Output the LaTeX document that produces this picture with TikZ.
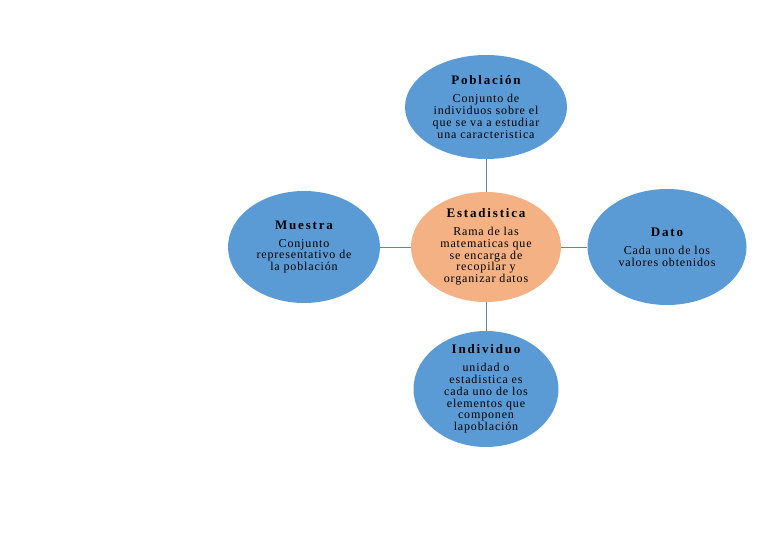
\documentclass[tikz,border=0pt]{standalone}
\usepackage{fontspec}
\setmainfont{Liberation Serif}
\usepackage{tikz}
\usetikzlibrary{shapes.geometric}
\usepackage{xcolor}
\definecolor{concBlue}{HTML}{5B9BD5}
\definecolor{concOrange}{HTML}{F4B183}
\definecolor{linkBlue}{HTML}{5E86B4}

\tikzset{
  concept/.style={ellipse,fill=concBlue,inner sep=-12pt,align=center,
    font=\fontsize{12}{11.8}\selectfont\addfontfeature{LetterSpace=7}},
  center/.style={concept,fill=concOrange},
  link/.style={draw=linkBlue,line width=0.7pt}
}
\newcommand{\ttl}[1]{{\fontsize{13}{13}\selectfont\bfseries\addfontfeature{LetterSpace=14}#1}\\[6pt]}

\begin{document}
\begin{tikzpicture}[x=1pt,y=-1pt]
\useasboundingbox (0,0) rectangle (768,543);
\node[center,minimum width=150,minimum height=110] (est) at (486,247) {\ttl{Estadistica}Rama de las\\matematicas que\\se encarga de\\recopilar y\\organizar datos};
\node[concept,minimum width=162,minimum height=104] (pob) at (486,107) {\ttl{Población}Conjunto de\\individuos sobre el\\que se va a estudiar\\una caracteristica};
\node[concept,minimum width=152,minimum height=112] (mue) at (304,247) {\ttl{Muestra}Conjunto\\representativo de\\la población};
\node[concept,minimum width=159,minimum height=116] (dat) at (667,247) {\ttl{Dato}Cada uno de los\\valores obtenidos};
\node[concept,minimum width=145,minimum height=116] (ind) at (486,389) {\ttl{Individuo}unidad o\\estadistica es\\cada uno de los\\elementos que\\componen\\lapoblación};
% connectors
\draw[link] (pob.south) -- (est.north);
\draw[link] (est.west) -- (mue.east);
\draw[link] (est.east) -- (dat.west);
\draw[link] (est.south) -- (ind.north);
\end{tikzpicture}
\end{document}
